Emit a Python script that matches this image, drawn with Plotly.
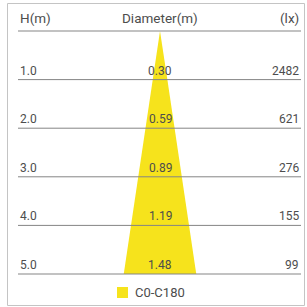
import plotly.graph_objects as go

heights = [1.0, 2.0, 3.0, 4.0, 5.0]
height_labels = ["1.0", "2.0", "3.0", "4.0", "5.0"]
diameters = [0.30, 0.59, 0.89, 1.19, 1.48]
diameter_labels = ["0.30", "0.59", "0.89", "1.19", "1.48"]
lux = [2482, 621, 276, 155, 99]
series_name = "C0-C180"
headers = ["H(m)", "Diameter(m)", "(lx)"]

W = H = 307
X0 = 160.0      # pixel of beam axis
Y0 = 31.0       # pixel of H=0
SX = 49.0       # px per metre horizontally
SY = 48.6       # px per metre vertically

YELLOW = "#F6E31C"
TEXT = "#4d4d4d"
LINE = "#858585"
FONT = "Roboto"

xr = [-X0 / SX, (W - X0) / SX]
yr = [(H - Y0) / SY, -Y0 / SY]

def px(p):
    return p / W

cone_x = [0] + [-d / 2 for d in diameters] + [d / 2 for d in reversed(diameters)] + [0]
cone_y = [0] + heights + list(reversed(heights)) + [0]

fig = go.Figure()
fig.add_trace(go.Scatter(x=cone_x, y=cone_y, fill="toself", fillcolor=YELLOW,
                         line=dict(width=0, color=YELLOW), mode="lines",
                         hoverinfo="skip", showlegend=False, name=series_name))

shapes = []
annotations = []
x_left, x_right = px(18), px(301)
for h in [0.0] + heights:
    shapes.append(dict(type="line", xref="paper", yref="y", x0=x_left, x1=x_right,
                       y0=h, y1=h, line=dict(color=LINE, width=1), layer="above"))
shapes.append(dict(type="rect", xref="paper", yref="paper", x0=px(7.5), x1=px(304.5),
                   y0=1 - 305.5 / H, y1=1 - 3.5 / H, line=dict(color="#c4c4c4", width=1)))

hdr_y = 1 - 18 / H
hf = dict(size=13.5, color=TEXT, family=FONT)
annotations.append(dict(text=headers[0], xref="paper", yref="paper", x=x_left, y=hdr_y,
                        xanchor="left", yanchor="middle", showarrow=False, font=hf))
annotations.append(dict(text=headers[1], xref="x", yref="paper", x=0, y=hdr_y,
                        xanchor="center", yanchor="middle", showarrow=False, font=hf))
annotations.append(dict(text=headers[2], xref="paper", yref="paper", x=x_right, y=hdr_y,
                        xanchor="right", yanchor="middle", showarrow=False, font=hf))

for h, hl, dl, lx in zip(heights, height_labels, diameter_labels, lux):
    f = dict(size=12, color=TEXT, family=FONT)
    annotations.append(dict(text=hl, xref="paper", yref="y", x=x_left, y=h, xanchor="left",
                            yanchor="bottom", yshift=0, showarrow=False, font=f))
    annotations.append(dict(text=dl, xref="x", yref="y", x=0, y=h, xanchor="center",
                            yanchor="bottom", yshift=0, showarrow=False, font=f))
    annotations.append(dict(text=str(lx), xref="paper", yref="y", x=x_right, y=h, xanchor="right",
                            yanchor="bottom", yshift=0, showarrow=False, font=f))

shapes.append(dict(type="rect", xref="paper", yref="paper", x0=px(117), x1=px(128),
                   y0=1 - 298 / H, y1=1 - 287 / H, fillcolor=YELLOW, line=dict(width=0)))
annotations.append(dict(text=series_name, xref="paper", yref="paper", x=px(133), y=1 - 292.5 / H,
                        xanchor="left", yanchor="middle", showarrow=False,
                        font=dict(size=13, color=TEXT, family=FONT)))

fig.update_layout(
    width=W, height=H, margin=dict(l=0, r=0, t=0, b=0, pad=0), autosize=False,
    paper_bgcolor="white", plot_bgcolor="white",
    xaxis=dict(range=xr, visible=False, fixedrange=True),
    yaxis=dict(range=yr, visible=False, fixedrange=True),
    shapes=shapes, annotations=annotations, showlegend=False,
)
fig.write_html("out.html", config={"responsive": False, "displayModeBar": False},
               post_script="document.body.style.margin='0';document.body.style.overflow='hidden';")
